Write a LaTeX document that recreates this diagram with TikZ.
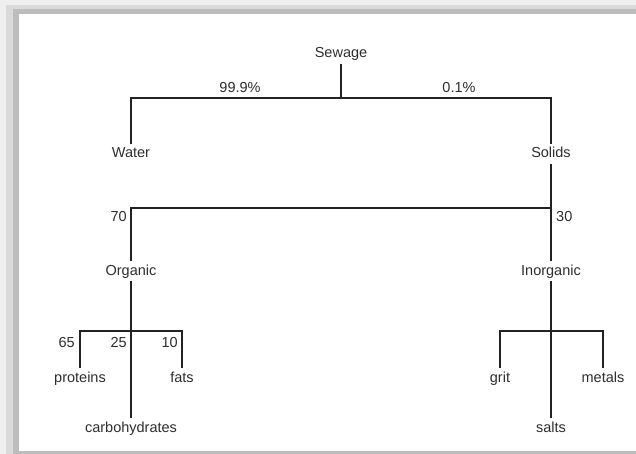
\documentclass[tikz,border=0pt]{standalone}
\usepackage{fontspec}
\setmainfont{Liberation Sans}
\definecolor{ink}{HTML}{2E2E2E}
\definecolor{wire}{HTML}{222222}
\definecolor{shadeA}{HTML}{EFEFEF}
\definecolor{shadeB}{HTML}{DADADA}
\definecolor{shadeC}{HTML}{BDBDBD}
\begin{document}
\begin{tikzpicture}[x=1pt,y=-1pt,
  lbl/.style={font=\fontsize{14.5}{17}\selectfont, text=ink, inner xsep=0pt,
              inner ysep=3pt, text height=10.4pt, text depth=3pt, anchor=base},
  link/.style={draw=wire, line width=1.3pt, line join=miter}]

% framed page with a soft shadow on the top, left and bottom edges
\useasboundingbox (0,0) rectangle (636,454);
\fill[shadeA] (0,0) rectangle (636,454);
\fill[shadeB] (6,5) rectangle (636,454);
\fill[shadeC] (13,9) rectangle (636,454);
\fill[white] (19,14) rectangle (636,451);

% categories
\node[lbl] (sew)    at (341,58)  {Sewage};
\node[lbl] (water)  at (131,158) {Water};
\node[lbl] (solids) at (551,158) {Solids};
\node[lbl] (org)    at (131,275) {Organic};
\node[lbl] (inorg)  at (551,275) {Inorganic};
\node[lbl] (prot)   at (80,382)  {proteins};
\node[lbl] (fats)   at (182,382) {fats};
\node[lbl] (carb)   at (131,432) {carbohydrates};
\node[lbl] (grit)   at (500,382) {grit};
\node[lbl] (metals) at (603,382) {metals};
\node[lbl] (salts)  at (551,432) {salts};

% shares
\node[lbl] (p999) at (240,93) {99.9\%};
\node[lbl] (p01)  at (459,93) {0.1\%};
\node[lbl,anchor=base east] (q70) at (127,222) {70};
\node[lbl,anchor=base west] (q30) at (556,222) {30};
\node[lbl,anchor=base east] (q65) at (75,347)  {65};
\node[lbl,anchor=base east] (q25) at (127,347) {25};
\node[lbl,anchor=base east] (q10) at (178,347) {10};

% branch points
\coordinate (j1) at (341,98);
\coordinate (j2) at (551,208);
\coordinate (j3) at (131,331);
\coordinate (j4) at (551,331);

% tree
\draw[link] (sew.south) -- (j1);
\draw[link] (water.north) |- (j1) -| (solids.north);
\draw[link] (solids.south) -- (inorg.north);
\draw[link] (org.north) |- (j2);
\draw[link] (org.south) -- (carb.north);
\draw[link] (prot.north) |- (j3) -| (fats.north);
\draw[link] (inorg.south) -- (salts.north);
\draw[link] (grit.north) |- (j4) -| (metals.north);
\end{tikzpicture}
\end{document}
